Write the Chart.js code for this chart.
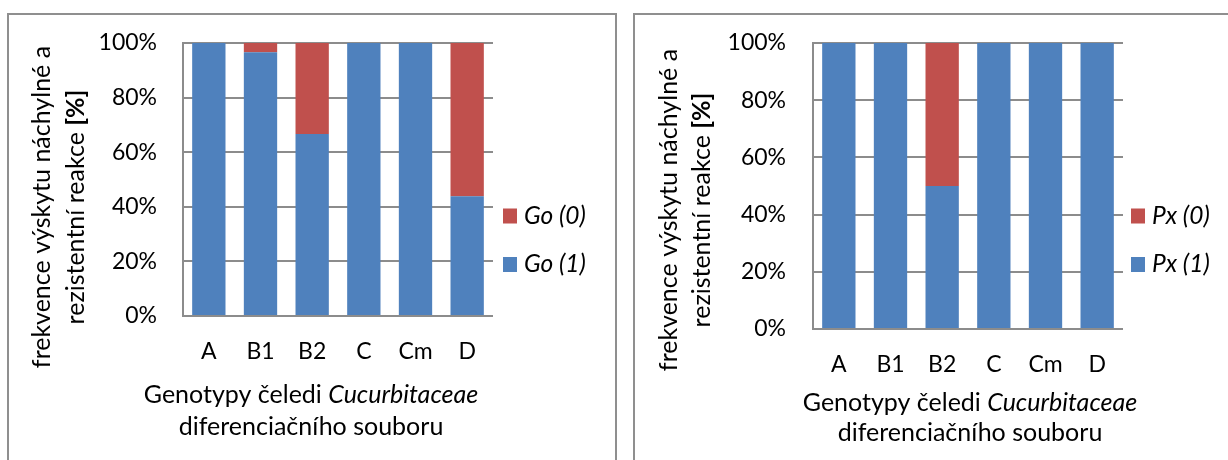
<!DOCTYPE html>
<html>
<head>
<meta charset="utf-8">
<script src="https://cdn.jsdelivr.net/npm/chart.js@4.4.1/dist/chart.umd.min.js"></script>
<style>
  html, body { margin: 0; padding: 0; background: #fff; width: 1228px; height: 460px; overflow: hidden; }
  body { position: relative; }
  .frame { position: absolute; border: 2px solid #8f8f8f; box-sizing: border-box; }
  canvas { position: absolute; top: 0; }
</style>
</head>
<body>
<div class="frame" style="left:7px; top:13px; width:610px; height:480px;"></div>
<div class="frame" style="left:633px; top:13px; width:640px; height:480px;"></div>
<canvas id="goChart" width="625" height="460" style="left:0px;"></canvas>
<canvas id="pxChart" width="603" height="460" style="left:625px;"></canvas>
<script>
// Genotypes of the differential set
const genotypes = ['A', 'B1', 'B2', 'C', 'Cm', 'D'];

// Golovinomyces orontii: share of resistant (1) and susceptible (0) reactions, %
const goResistant   = [100, 96.6, 66.7, 100, 100, 43.9];
const goSusceptible = [0, 3.4, 33.3, 0, 0, 56.1];

// Podosphaera xanthii: share of resistant (1) and susceptible (0) reactions, %
const pxResistant   = [100, 100, 50, 100, 100, 100];
const pxSusceptible = [0, 0, 50, 0, 0, 0];

const percentTicks = [0, 20, 40, 60, 80, 100];

const yTitleLine1 = 'frekvence výskytu náchylné a';
const yTitleLine2 = 'rezistentní reakce ';
const yTitleUnit = '[%]';
const xTitleLead = 'Genotypy čeledi ';
const xTitleTaxon = 'Cucurbitaceae';
const xTitleLine2 = 'diferenciačního souboru';

const BLUE = '#4f81bd';
const RED = '#c0504d';
const GRID = '#8c8c8c';
const FAMILY = 'Lato, "Liberation Sans", sans-serif';
const TICK_SIZE = 23;
const TITLE_SIZE = 25;
const LEGEND_SIZE = 24.5;

function font(style, weight, size) {
  return `${style} ${weight} ${size}px ${FAMILY}`;
}

// Draws a run of differently styled text pieces centred on (cx, cy)
function drawRun(ctx, pieces, cx, cy) {
  let total = 0;
  pieces.forEach(p => { ctx.font = p.font; p.w = ctx.measureText(p.text).width; total += p.w; });
  let x = cx - total / 2;
  ctx.textAlign = 'left';
  ctx.textBaseline = 'middle';
  pieces.forEach(p => { ctx.font = p.font; ctx.fillText(p.text, x, cy); x += p.w; });
}

// Axis titles with mixed styling and the side legend
const chartText = {
  id: 'chartText',
  afterDraw(chart, args, o) {
    const ctx = chart.ctx;
    ctx.save();
    ctx.fillStyle = '#000';

    drawRun(ctx, [
      { text: xTitleLead, font: font('normal', 'normal', TITLE_SIZE) },
      { text: xTitleTaxon, font: font('italic', 'normal', TITLE_SIZE) }
    ], o.xTitleX, o.xTitleY1);
    drawRun(ctx, [{ text: xTitleLine2, font: font('normal', 'normal', TITLE_SIZE) }], o.xTitleX, o.xTitleY2);

    ctx.save();
    ctx.translate(o.yTitleX1, o.yTitleY);
    ctx.rotate(-Math.PI / 2);
    drawRun(ctx, [{ text: yTitleLine1, font: font('normal', 'normal', TITLE_SIZE) }], 0, 0);
    ctx.restore();

    ctx.save();
    ctx.translate(o.yTitleX2, o.yTitleY);
    ctx.rotate(-Math.PI / 2);
    drawRun(ctx, [
      { text: yTitleLine2, font: font('normal', 'normal', TITLE_SIZE) },
      { text: yTitleUnit, font: font('normal', 'bold', TITLE_SIZE) }
    ], 0, 0);
    ctx.restore();

    const items = chart.data.datasets.slice().reverse();
    items.forEach((d, i) => {
      const cy = o.legendY + i * o.legendGap;
      ctx.fillStyle = d.backgroundColor;
      ctx.fillRect(o.legendX, cy - 7.5, 14, 15);
      ctx.fillStyle = '#000';
      ctx.font = font('italic', 'normal', LEGEND_SIZE);
      ctx.textAlign = 'left';
      ctx.textBaseline = 'middle';
      ctx.fillText(d.label, o.legendX + 21, cy);
    });
    ctx.restore();
  }
};

function buildChart(id, resistant, susceptible, names, L) {
  return new Chart(document.getElementById(id), {
    type: 'bar',
    data: {
      labels: genotypes,
      datasets: [
        { label: names[0], data: resistant, backgroundColor: BLUE, barPercentage: 0.645, categoryPercentage: 1.0 },
        { label: names[1], data: susceptible, backgroundColor: RED, barPercentage: 0.645, categoryPercentage: 1.0 }
      ]
    },
    options: {
      responsive: false,
      devicePixelRatio: 1,
      animation: false,
      layout: { padding: { left: 0, right: L.padRight, top: L.padTop, bottom: 0 } },
      plugins: {
        legend: { display: false },
        tooltip: { enabled: false },
        chartText: L.text
      },
      scales: {
        x: {
          stacked: true,
          grid: { display: false, drawTicks: false },
          border: { display: false },
          ticks: { color: '#000', font: { family: FAMILY, size: TICK_SIZE }, padding: L.xPad, maxRotation: 0 },
          afterFit(s) { s.height = L.xHeight; }
        },
        y: {
          stacked: true,
          min: 0,
          max: 100,
          afterBuildTicks(s) { s.ticks = percentTicks.map(v => ({ value: v })); },
          ticks: { color: '#000', font: { family: FAMILY, size: TICK_SIZE }, padding: L.yPad, callback: v => v + '%' },
          grid: { color: GRID, lineWidth: 2, drawTicks: false },
          border: { display: true, color: GRID, width: 2 },
          afterFit(s) { s.width = L.yWidth; }
        }
      }
    },
    plugins: [chartText]
  });
}

buildChart('goChart', goResistant, goSusceptible, ['Go (1)', 'Go (0)'], {
  padRight: 132, padTop: 43, xHeight: 144, yWidth: 183, xPad: 22, yPad: 26,
  text: { xTitleX: 311, xTitleY1: 395, xTitleY2: 427, yTitleX1: 42, yTitleX2: 76, yTitleY: 207,
          legendX: 503, legendY: 216, legendGap: 48.5 }
});

buildChart('pxChart', pxResistant, pxSusceptible, ['Px (1)', 'Px (0)'], {
  padRight: 105, padTop: 43, xHeight: 131, yWidth: 188, xPad: 22, yPad: 27,
  text: { xTitleX: 345, xTitleY1: 403, xTitleY2: 433, yTitleX1: 44, yTitleX2: 77, yTitleY: 210,
          legendX: 506, legendY: 216, legendGap: 48.5 }
});
</script>
</body>
</html>
